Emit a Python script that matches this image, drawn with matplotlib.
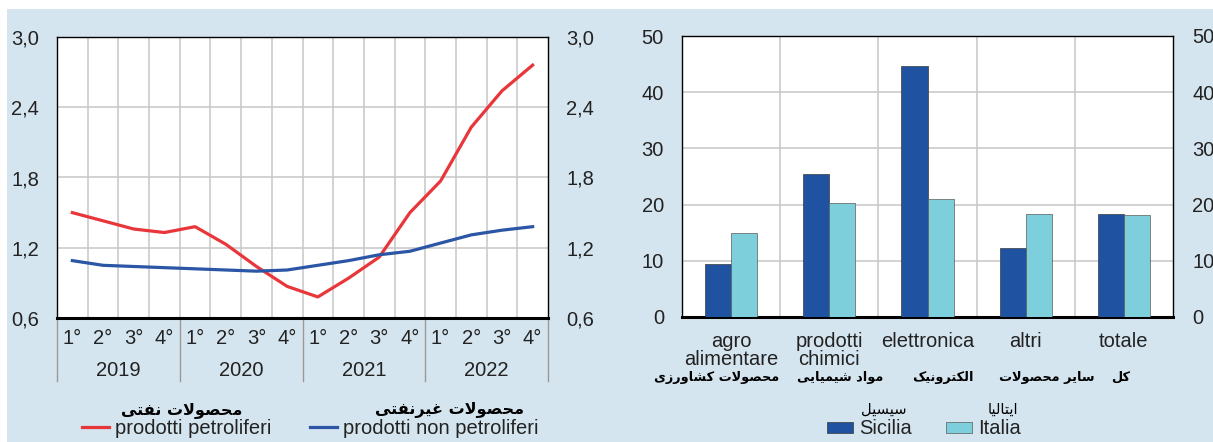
import matplotlib
matplotlib.use('agg')
import matplotlib.pyplot as plt
from matplotlib.patches import Rectangle, Patch
from matplotlib.lines import Line2D
from matplotlib.ticker import FuncFormatter
import numpy as np

plt.rcParams['font.family'] = ['Liberation Sans', 'DejaVu Sans']

# --- data -------------------------------------------------------------
years = ['2019', '2020', '2021', '2022']
quarters = ['1°', '2°', '3°', '4°']
petroliferi = [1.50, 1.43, 1.36, 1.33, 1.38, 1.23, 1.04, 0.87,
               0.78, 0.94, 1.12, 1.50, 1.77, 2.23, 2.54, 2.76]
non_petroliferi = [1.09, 1.05, 1.04, 1.03, 1.02, 1.01, 1.00, 1.01,
                   1.05, 1.09, 1.14, 1.17, 1.24, 1.31, 1.35, 1.38]

settori = ['agro\nalimentare', 'prodotti\nchimici', 'elettronica', 'altri', 'totale']
settori_fa = ['محصولات کشاورزی', 'مواد شیمیایی', 'الکترونیک', 'سایر محصولات', 'کل']
sicilia = [9.4, 25.5, 44.7, 12.3, 18.4]
italia = [14.9, 20.3, 21.0, 18.3, 18.1]

# --- tiny persian shaper (matplotlib has no bidi / shaping) ------------
FORMS = {
    'ا': ('\uFE8D', '\uFE8E'), 'د': ('\uFEA9', '\uFEAA'),
    'ر': ('\uFEAD', '\uFEAE'), 'ز': ('\uFEAF', '\uFEB0'),
    'و': ('\uFEED', '\uFEEE'),
    'ت': ('\uFE95', '\uFE96', '\uFE97', '\uFE98'),
    'ح': ('\uFEA1', '\uFEA2', '\uFEA3', '\uFEA4'),
    'س': ('\uFEB1', '\uFEB2', '\uFEB3', '\uFEB4'),
    'ش': ('\uFEB5', '\uFEB6', '\uFEB7', '\uFEB8'),
    'ص': ('\uFEB9', '\uFEBA', '\uFEBB', '\uFEBC'),
    'غ': ('\uFECD', '\uFECE', '\uFECF', '\uFED0'),
    'ف': ('\uFED1', '\uFED2', '\uFED3', '\uFED4'),
    'ل': ('\uFEDD', '\uFEDE', '\uFEDF', '\uFEE0'),
    'م': ('\uFEE1', '\uFEE2', '\uFEE3', '\uFEE4'),
    'ن': ('\uFEE5', '\uFEE6', '\uFEE7', '\uFEE8'),
    'ی': ('\uFBFC', '\uFBFD', '\uFBFE', '\uFBFF'),
    'ک': ('\uFB8E', '\uFB8F', '\uFB90', '\uFB91'),
}


def dual(c):
    return c in FORMS and len(FORMS[c]) == 4


def fa(text):
    ch = list(text)
    out = []
    i = 0
    while i < len(ch):
        c = ch[i]
        if c not in FORMS:
            out.append(c)
            i += 1
            continue
        prev_join = i > 0 and dual(ch[i - 1])
        if c == 'ل' and i + 1 < len(ch) and ch[i + 1] == 'ا':
            out.append('\uFEFC' if prev_join else '\uFEFB')
            i += 2
            continue
        next_join = dual(c) and i + 1 < len(ch) and ch[i + 1] in FORMS
        f = FORMS[c]
        if prev_join and next_join:
            out.append(f[3])
        elif prev_join:
            out.append(f[1])
        elif next_join:
            out.append(f[2])
        else:
            out.append(f[0])
        i += 1
    return ''.join(reversed(out))


FA = dict(family=['DejaVu Sans'], fontweight='bold')

# --- figure -----------------------------------------------------------
W, H = 1213, 442
fig = plt.figure(figsize=(W / 100, H / 100), dpi=100, facecolor='white')
bg = '#d5e5ef'
fig.patches.append(Rectangle((7 / W, 0), 1, 1 - 9 / H, transform=fig.transFigure,
                             facecolor=bg, edgecolor='none', zorder=-10))

grid_c = '#c6c6c6'
fs = 14.5


def frame(ax):
    for s in ['left', 'top', 'right']:
        ax.spines[s].set_linewidth(1.0)
    ax.spines['bottom'].set_linewidth(2.2)
    ax.set_facecolor('white')
    ax.tick_params(length=0, labelsize=fs, colors='#222222')


# --- left: line chart --------------------------------------------------
ax1 = fig.add_axes([57 / W, 1 - 318 / H, 491 / W, 281 / H])
frame(ax1)
x = np.arange(len(petroliferi)) + 0.5
ax1.set_xlim(0, 16)
ax1.set_ylim(0.6, 3.0)
ax1.set_yticks([0.6, 1.2, 1.8, 2.4, 3.0])
ax1.yaxis.set_major_formatter(FuncFormatter(lambda v, p: f'{v:.1f}'.replace('.', ',')))
for k in range(1, 16):
    ax1.axvline(k, color=grid_c, lw=1.1, zorder=0)
for v in [1.2, 1.8, 2.4]:
    ax1.axhline(v, color=grid_c, lw=1.1, zorder=0)
ax1.plot(x, petroliferi, color='#e8363a', lw=2.3, zorder=3)
ax1.plot(x, non_petroliferi, color='#2b56a6', lw=2.3, zorder=3)
ax1.set_xticks(x)
ax1.set_xticklabels(quarters * 4)
ax1.tick_params(axis='x', pad=8)
ax1.tick_params(axis='y', pad=13)
r1 = ax1.twinx()
r1.set_ylim(ax1.get_ylim())
r1.set_yticks(ax1.get_yticks())
r1.yaxis.set_major_formatter(ax1.yaxis.get_major_formatter())
r1.tick_params(length=0, labelsize=fs, colors='#222222', pad=13)
for s in r1.spines.values():
    s.set_visible(False)

for j, yr in enumerate(years):
    ax1.annotate(yr, xy=(4 * j + 2, 0), xycoords=('data', 'axes fraction'),
                 xytext=(0, -52 * 0.72), textcoords='offset points',
                 ha='center', va='center', fontsize=fs, color='#222222')
for k in range(0, 17, 4):
    ax1.add_line(Line2D([k, k], [0, -63 / 281], transform=ax1.get_xaxis_transform(),
                        color='#999999', lw=1.0, clip_on=False))

leg1 = fig.legend(handles=[Line2D([], [], color='#e8363a', lw=2.3),
                           Line2D([], [], color='#2b56a6', lw=2.3)],
                  labels=['prodotti petroliferi', 'prodotti non petroliferi'],
                  loc='center', bbox_to_anchor=(310 / W, 1 - 429 / H), ncol=2,
                  frameon=False, fontsize=fs, handlelength=1.35, handletextpad=0.3,
                  columnspacing=1.9, borderpad=0, borderaxespad=0)
for t in leg1.get_texts():
    t.set_color('#222222')
fig.text(182 / W, 1 - 410 / H, fa('محصولات نفتی'), ha='center', va='center', fontsize=11.5, **FA)
fig.text(450 / W, 1 - 410 / H, fa('محصولات غیرنفتی'), ha='center', va='center', fontsize=11.5, **FA)

# --- right: bar chart --------------------------------------------------
ax2 = fig.add_axes([682 / W, 1 - 317 / H, 491 / W, 281 / H])
frame(ax2)
xc = np.arange(len(settori))
bw = 0.265
ax2.bar(xc - bw / 2, sicilia, bw, color='#1f53a1', edgecolor='#3a3a3a', lw=0.5, zorder=3)
ax2.bar(xc + bw / 2, italia, bw, color='#7dcfdc', edgecolor='#5a5a5a', lw=0.5, zorder=3)
ax2.set_xlim(-0.5, 4.5)
ax2.set_ylim(0, 50)
ax2.set_yticks([0, 10, 20, 30, 40, 50])
for k in range(4):
    ax2.axvline(k + 0.5, color=grid_c, lw=1.1, zorder=0)
for v in [10, 20, 30, 40]:
    ax2.axhline(v, color=grid_c, lw=1.1, zorder=0)
ax2.set_xticks(xc)
ax2.set_xticklabels(settori, linespacing=0.92)
ax2.tick_params(axis='x', pad=11)
ax2.tick_params(axis='y', pad=13)
r2 = ax2.twinx()
r2.set_ylim(0, 50)
r2.set_yticks([0, 10, 20, 30, 40, 50])
r2.tick_params(length=0, labelsize=fs, colors='#222222', pad=14)
for s in r2.spines.values():
    s.set_visible(False)
# horizontal nudges (pixels) of the persian labels, as in the reference
fa_shift = [-14, 11, 15, 21, -3]
for k, lab in enumerate(settori_fa):
    ax2.annotate(fa(lab), xy=(k, 0), xycoords=('data', 'axes fraction'),
                 xytext=(fa_shift[k] * 0.72, -60 * 0.72), textcoords='offset points',
                 ha='center', va='center', fontsize=9.3, **FA)

leg2 = fig.legend(handles=[Patch(facecolor='#1f53a1', edgecolor='#3a3a3a', lw=0.5),
                           Patch(facecolor='#7dcfdc', edgecolor='#5a5a5a', lw=0.5)],
                  labels=['Sicilia', 'Italia'],
                  loc='center', bbox_to_anchor=(924 / W, 1 - 429 / H), ncol=2,
                  frameon=False, fontsize=fs, handlelength=1.3, handleheight=0.45,
                  handletextpad=0.3, columnspacing=1.7, borderpad=0, borderaxespad=0)
for t in leg2.get_texts():
    t.set_color('#222222')
fig.text(884 / W, 1 - 409 / H, fa('سیسیل'), ha='center', va='center', fontsize=10.5, family=['DejaVu Sans'])
fig.text(1003 / W, 1 - 409 / H, fa('ایتالیا'), ha='center', va='center', fontsize=10.5, family=['DejaVu Sans'])

fig.savefig('out.png', dpi=100, facecolor='white')
